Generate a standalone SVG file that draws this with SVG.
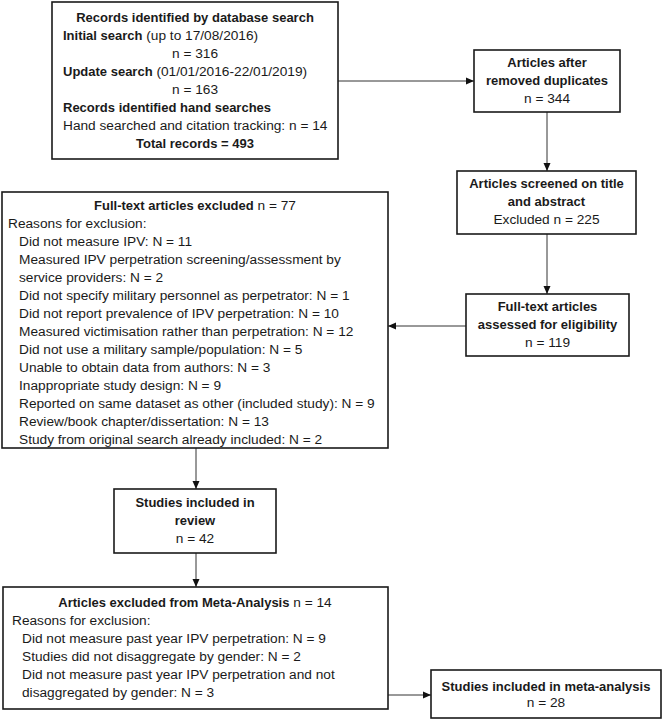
<svg xmlns="http://www.w3.org/2000/svg" width="664" height="721" viewBox="0 0 664 721">
<style>
text{font-family:"Liberation Sans",Arial,sans-serif;font-size:13.7px;fill:#1a1a1a}
.c{text-anchor:middle}
.b{font-weight:bold;font-size:13px}
rect{fill:#fff;stroke:#1a1a1a;stroke-width:1.6}
.e{stroke:#333;stroke-width:1;fill:none}
</style>
<defs>
<marker id="ah" markerWidth="8" markerHeight="8" refX="8" refY="4" orient="auto" markerUnits="userSpaceOnUse">
<path d="M0,0.5 L8,4 L0,7.5 Z" fill="#111"/>
</marker>
</defs>
<rect width="664" height="721" style="fill:#fff;stroke:none"/>
<g id="connectors">
<path class="e" d="M338,81 H474" marker-end="url(#ah)"/>
<path class="e" d="M547,112 V171" marker-end="url(#ah)"/>
<path class="e" d="M547,234 V294" marker-end="url(#ah)"/>
<path class="e" d="M466,326 H388" marker-end="url(#ah)"/>
<path class="e" d="M196,448 V489" marker-end="url(#ah)"/>
<path class="e" d="M196,553 V587" marker-end="url(#ah)"/>
<path class="e" d="M388,695 H431" marker-end="url(#ah)"/>
</g>
<g id="records">
<rect x="52" y="2" width="286" height="157"/>
<text x="195" y="22" class="c b">Records identified by database search</text>
<text x="63" y="40"><tspan class="b">Initial search</tspan> (up to 17/08/2016)</text>
<text x="195" y="58" class="c">n = 316</text>
<text x="63" y="76"><tspan class="b">Update search</tspan> (01/01/2016-22/01/2019)</text>
<text x="195" y="94" class="c">n = 163</text>
<text x="63" y="112" class="b">Records identified hand searches</text>
<text x="63" y="130">Hand searched and citation tracking: n = 14</text>
<text x="195" y="148" class="c b">Total records = 493</text>
</g>
<g id="duplicates">
<rect x="474" y="50" width="146" height="62"/>
<text x="547" y="67" class="c b">Articles after</text>
<text x="547" y="85" class="c b">removed duplicates</text>
<text x="547" y="103" class="c">n = 344</text>
</g>
<g id="screened">
<rect x="457" y="171" width="179" height="63"/>
<text x="546.5" y="188" class="c b">Articles screened on title</text>
<text x="546.5" y="206" class="c b">and abstract</text>
<text x="546.5" y="224" class="c">Excluded n = 225</text>
</g>
<g id="fulltext">
<rect x="466" y="294" width="163" height="62"/>
<text x="547.5" y="311" class="c b">Full-text articles</text>
<text x="547.5" y="329" class="c b">assessed for eligibility</text>
<text x="547.5" y="347" class="c">n = 119</text>
</g>
<g id="excluded">
<rect x="2" y="192" width="386" height="256"/>
<text x="195" y="210" class="c"><tspan class="b">Full-text articles excluded</tspan> n = 77</text>
<text x="8" y="228">Reasons for exclusion:</text>
<text x="19" y="246">Did not measure IPV: N = 11</text>
<text x="19" y="264">Measured IPV perpetration screening/assessment by</text>
<text x="19" y="282">service providers: N = 2</text>
<text x="19" y="300">Did not specify military personnel as perpetrator: N = 1</text>
<text x="19" y="318">Did not report prevalence of IPV perpetration: N = 10</text>
<text x="19" y="336">Measured victimisation rather than perpetration: N = 12</text>
<text x="19" y="354">Did not use a military sample/population: N = 5</text>
<text x="19" y="372">Unable to obtain data from authors: N = 3</text>
<text x="19" y="390">Inappropriate study design: N = 9</text>
<text x="19" y="408">Reported on same dataset as other (included study): N = 9</text>
<text x="19" y="426">Review/book chapter/dissertation: N = 13</text>
<text x="19" y="444">Study from original search already included: N = 2</text>
</g>
<g id="review">
<rect x="114" y="489" width="162" height="64"/>
<text x="195" y="507" class="c b">Studies included in</text>
<text x="195" y="525" class="c b">review</text>
<text x="195" y="543" class="c">n = 42</text>
</g>
<g id="metaexcluded">
<rect x="3" y="587" width="385" height="122"/>
<text x="195" y="607" class="c"><tspan class="b">Articles excluded from Meta-Analysis</tspan> n = 14</text>
<text x="12" y="625">Reasons for exclusion:</text>
<text x="22" y="643">Did not measure past year IPV perpetration: N = 9</text>
<text x="22" y="661">Studies did not disaggregate by gender: N = 2</text>
<text x="22" y="679">Did not measure past year IPV perpetration and not</text>
<text x="22" y="697">disaggregated by gender: N = 3</text>
</g>
<g id="meta">
<rect x="431" y="670" width="230" height="48"/>
<text x="546" y="691" class="c b">Studies included in meta-analysis</text>
<text x="546" y="707" class="c">n = 28</text>
</g>
</svg>
